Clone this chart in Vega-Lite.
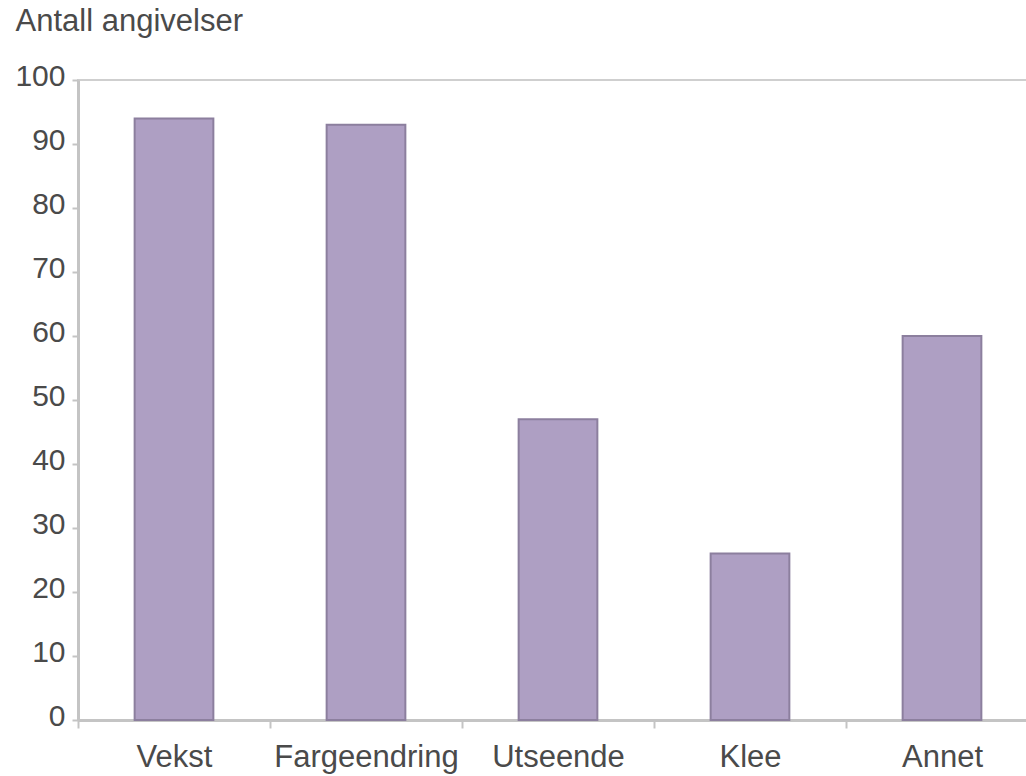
{
  "$schema": "https://vega.github.io/schema/vega-lite/v6.json",
  "autosize": "none",
  "width": 960,
  "height": 640,
  "padding": {"left": 78, "top": 80, "right": 0, "bottom": 56},
  "background": "white",
  "data": {"values": [
    {"kategori": "Vekst", "antall": 94},
    {"kategori": "Fargeendring", "antall": 93},
    {"kategori": "Utseende", "antall": 47},
    {"kategori": "Klee", "antall": 26},
    {"kategori": "Annet", "antall": 60}
  ]},
  "config": {
    "view": {"stroke": "#cfcfcf", "strokeWidth": 2},
    "font": "Liberation Sans"
  },
  "mark": {"type": "bar", "width": {"band": 0.41}, "fill": "#ae9fc3", "stroke": "#8c7f9e", "strokeWidth": 2},
  "encoding": {
    "x": {
      "field": "kategori", "type": "nominal", "sort": null,
      "scale": {"paddingInner": 0, "paddingOuter": 0},
      "axis": {
        "title": null, "labelAngle": 0, "tickBand": "extent", "labelLimit": 0,
        "labelFont": "Liberation Sans", "labelFontSize": 31, "labelColor": "#4a4a4a",
        "labelPadding": 14, "tickSize": 8, "tickColor": "#c4c4c4", "tickWidth": 2,
        "domainColor": "#c4c4c4", "domainWidth": 3, "grid": false
      }
    },
    "y": {
      "field": "antall", "type": "quantitative",
      "scale": {"domain": [0, 100], "nice": false},
      "axis": {
        "title": "Antall angivelser", "titleAngle": 0, "titleAlign": "left", "titleBaseline": "alphabetic",
        "titleX": -63, "titleY": -50, "titleFont": "Liberation Sans", "titleFontSize": 31,
        "titleFontWeight": "normal", "titleColor": "#4a4a4a",
        "values": [0, 10, 20, 30, 40, 50, 60, 70, 80, 90, 100],
        "labelFont": "Liberation Sans", "labelFontSize": 30, "labelColor": "#4a4a4a",
        "labelPadding": 7, "labelOffset": -4, "tickSize": 6, "tickColor": "#c4c4c4", "tickWidth": 2,
        "domainColor": "#c4c4c4", "domainWidth": 3, "grid": false
      }
    }
  }
}
